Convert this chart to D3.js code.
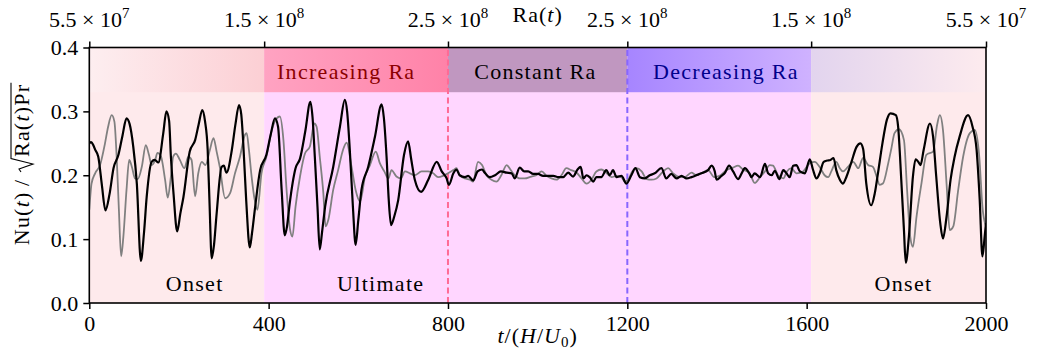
<!DOCTYPE html>
<html><head><meta charset="utf-8">
<script src="https://cdn.jsdelivr.net/npm/d3@7/dist/d3.min.js"></script>
<style>body{margin:0;background:#fff} text{font-family:"Liberation Serif","Times New Roman",serif}</style>
</head><body><svg id="c" width="1037" height="350"></svg>
<script>
// ---------- data ----------
const xTicks = [0, 400, 800, 1200, 1600, 2000];
const yTicks = [0, 0.1, 0.2, 0.3, 0.4];
const topTicks = [0, 390, 800, 1200, 1610, 2000];
const topMant = ["5.5", "1.5", "2.5", "2.5", "1.5", "5.5"];
const topExp = ["7", "8", "8", "8", "8", "7"];
const regionStart = [0, 390, 1610];
const regionEnd = [390, 1610, 2000];
const regionNames = ["Onset", "Ultimate", "Onset"];
const regionLabelT = [235, 650, 1816];
const phaseStart = [0, 390, 800, 1200, 1610];
const phaseEnd = [390, 800, 1200, 1610, 2000];
const phaseNames = ["", "Increasing Ra", "Constant Ra", "Decreasing Ra", ""];
const phaseLabelT = [0, 573, 995, 1420, 0];
const bandBottom = 0.33;
const switchTimes = [800, 1200];

const tBlack = [0,4,9,13,20,28,36,45,54,65,74,83,90,98,106,115,122,128,139,146,154,165,172,178,182,188,196,203,210,224,236,244,252,258,264,268,273,278,284,295,300,306,318,326,334,339,343,350,358,363,370,381,395,405,414,421,429,436,441,447,460,470,482,493,498,503,509,514,519,526,544,559,570,575,581,588,594,600,607,622,637,652,657,663,668,673,680,689,702,711,718,726,740,756,775,786,797,802,812,819,826,838,845,856,866,876,882,893,905,918,931,942,949,960,970,979,990,1001,1012,1023,1035,1046,1057,1068,1079,1089,1096,1102,1109,1116,1124,1131,1142,1153,1161,1168,1176,1187,1198,1209,1218,1228,1239,1250,1261,1276,1287,1298,1310,1321,1332,1343,1354,1365,1380,1388,1395,1399,1410,1417,1427,1436,1447,1455,1462,1472,1477,1484,1496,1507,1514,1522,1529,1539,1548,1555,1562,1570,1577,1585,1596,1607,1614,1622,1629,1638,1646,1653,1660,1666,1674,1681,1689,1700,1711,1720,1726,1733,1744,1752,1759,1769,1779,1787,1799,1804,1811,1817,1821,1828,1837,1843,1849,1854,1861,1875,1882,1889,1898,1904,1912,1921,1930,1941,1960,1970,1979,1986,1992,1997,2000];
const nuBlack = [0.250,0.252,0.247,0.240,0.229,0.185,0.145,0.170,0.211,0.232,0.262,0.289,0.280,0.245,0.187,0.066,0.110,0.166,0.221,0.224,0.220,0.266,0.300,0.285,0.229,0.170,0.112,0.140,0.166,0.237,0.255,0.280,0.302,0.285,0.240,0.160,0.070,0.090,0.140,0.213,0.215,0.204,0.240,0.280,0.310,0.295,0.255,0.160,0.087,0.110,0.151,0.208,0.232,0.265,0.289,0.276,0.177,0.106,0.120,0.156,0.211,0.226,0.270,0.315,0.290,0.229,0.150,0.084,0.110,0.151,0.213,0.276,0.318,0.300,0.240,0.150,0.091,0.130,0.177,0.213,0.260,0.311,0.290,0.229,0.160,0.122,0.135,0.161,0.232,0.253,0.225,0.193,0.174,0.193,0.221,0.206,0.195,0.185,0.203,0.209,0.200,0.197,0.199,0.192,0.206,0.209,0.204,0.197,0.200,0.206,0.204,0.203,0.195,0.212,0.206,0.206,0.202,0.202,0.199,0.199,0.199,0.197,0.197,0.204,0.198,0.209,0.213,0.195,0.200,0.197,0.190,0.197,0.197,0.208,0.200,0.208,0.197,0.199,0.187,0.200,0.211,0.197,0.195,0.200,0.203,0.211,0.195,0.202,0.195,0.199,0.195,0.197,0.200,0.203,0.208,0.215,0.206,0.193,0.199,0.203,0.215,0.206,0.194,0.203,0.211,0.203,0.197,0.203,0.197,0.218,0.203,0.200,0.207,0.194,0.208,0.203,0.197,0.215,0.216,0.206,0.203,0.225,0.209,0.195,0.203,0.221,0.223,0.224,0.227,0.208,0.193,0.187,0.198,0.221,0.244,0.250,0.241,0.187,0.153,0.172,0.203,0.250,0.287,0.297,0.294,0.276,0.193,0.114,0.063,0.104,0.198,0.225,0.221,0.216,0.240,0.281,0.260,0.198,0.125,0.101,0.135,0.193,0.229,0.260,0.294,0.276,0.240,0.161,0.073,0.104,0.125];

const tGray = [0,5,13,24,35,42,50,56,61,66,71,76,83,89,95,102,108,117,126,133,139,147,152,160,169,175,182,187,193,202,212,221,228,236,243,251,259,269,277,284,291,303,314,325,336,347,351,356,362,369,375,384,395,407,418,425,433,440,448,453,460,470,481,492,502,507,514,522,527,533,544,555,566,574,585,594,604,615,626,639,648,658,667,674,685,695,704,715,726,741,756,767,778,789,800,812,819,826,838,849,856,867,876,886,897,908,919,931,940,949,960,971,986,997,1009,1020,1031,1042,1053,1064,1075,1087,1098,1109,1120,1131,1142,1153,1165,1176,1187,1194,1202,1211,1220,1232,1243,1254,1265,1280,1291,1302,1313,1328,1343,1354,1365,1380,1394,1408,1421,1436,1447,1458,1473,1484,1496,1507,1518,1525,1536,1548,1556,1566,1577,1592,1607,1618,1629,1640,1648,1655,1666,1674,1681,1692,1704,1715,1726,1737,1748,1756,1763,1770,1782,1789,1796,1806,1817,1824,1831,1837,1845,1856,1867,1882,1891,1897,1904,1912,1919,1927,1938,1949,1964,1975,1985,1992,2000];
const nuGray = [0.146,0.187,0.203,0.216,0.250,0.276,0.294,0.284,0.229,0.146,0.073,0.104,0.177,0.224,0.213,0.195,0.194,0.213,0.247,0.232,0.216,0.224,0.235,0.229,0.193,0.165,0.198,0.229,0.234,0.224,0.211,0.229,0.224,0.167,0.203,0.221,0.216,0.240,0.258,0.237,0.213,0.164,0.172,0.203,0.229,0.263,0.266,0.240,0.198,0.161,0.146,0.203,0.229,0.271,0.289,0.292,0.255,0.177,0.114,0.104,0.151,0.198,0.234,0.245,0.281,0.276,0.229,0.172,0.120,0.130,0.177,0.208,0.240,0.251,0.213,0.177,0.159,0.198,0.216,0.237,0.219,0.206,0.195,0.208,0.198,0.195,0.206,0.203,0.200,0.206,0.206,0.203,0.197,0.199,0.203,0.208,0.211,0.200,0.195,0.193,0.190,0.221,0.216,0.200,0.193,0.190,0.200,0.216,0.208,0.200,0.195,0.195,0.198,0.200,0.206,0.199,0.195,0.193,0.200,0.211,0.208,0.204,0.195,0.187,0.193,0.206,0.209,0.204,0.197,0.199,0.197,0.190,0.193,0.206,0.211,0.206,0.194,0.193,0.195,0.206,0.211,0.203,0.198,0.197,0.204,0.200,0.203,0.208,0.197,0.200,0.208,0.212,0.215,0.209,0.203,0.188,0.197,0.206,0.216,0.215,0.200,0.195,0.206,0.211,0.203,0.206,0.219,0.221,0.213,0.200,0.197,0.206,0.221,0.211,0.206,0.213,0.221,0.211,0.227,0.216,0.213,0.198,0.185,0.187,0.219,0.242,0.266,0.272,0.255,0.177,0.104,0.088,0.135,0.187,0.232,0.237,0.279,0.294,0.271,0.187,0.114,0.120,0.177,0.229,0.266,0.271,0.229,0.151,0.120];

// ---------- styles ----------
const regionFill = ["#feeaec", "#ffd6ff", "#feeaec"];
const phaseGrad = [["#fdeef0","#fccfd4"],["#ffa3c2","#ff82a8"],["#c097c0","#c097c0"],["#a685ff","#cfb2ff"],["#e2d4ee","#fdebee"]];
const phaseTextColor = ["#000","#8b0000","#000","#00008b","#000"];
const switchColor = ["#ff6b95", "#8866ff"];
const FS = 22;
const LS = 1.3;   // letter spacing for word labels (wider TeX-like look)

// ---------- chart ----------
const svg = d3.select("#c");
const x = d3.scaleLinear().domain([0, 2000]).range([89.3, 986]);
const y = d3.scaleLinear().domain([0, 0.4]).range([303, 47.5]);

const defs = svg.append("defs");
defs.append("clipPath").attr("id", "clip").append("rect")
  .attr("x", x(0)).attr("y", y(0.4)).attr("width", x(2000) - x(0)).attr("height", y(0) - y(0.4));

const bg = svg.append("g");
regionStart.forEach((s, i) => {
  bg.append("rect").attr("x", x(s)).attr("y", y(0.4)).attr("width", x(regionEnd[i]) - x(s))
    .attr("height", y(0) - y(0.4)).attr("fill", regionFill[i]);
});
phaseStart.forEach((s, i) => {
  const gid = "pg" + i;
  const lg = defs.append("linearGradient").attr("id", gid).attr("x1", 0).attr("x2", 1).attr("y1", 0).attr("y2", 0);
  lg.append("stop").attr("offset", 0).attr("stop-color", phaseGrad[i][0]);
  lg.append("stop").attr("offset", 1).attr("stop-color", phaseGrad[i][1]);
  bg.append("rect").attr("x", x(s)).attr("y", y(0.4)).attr("width", x(phaseEnd[i]) - x(s))
    .attr("height", y(bandBottom) - y(0.4)).attr("fill", `url(#${gid})`);
  if (phaseNames[i]) {
    bg.append("text").attr("x", x(phaseLabelT[i])).attr("y", 79).attr("text-anchor", "middle")
      .attr("font-size", FS).attr("letter-spacing", LS).attr("fill", phaseTextColor[i]).text(phaseNames[i]);
  }
});
regionNames.forEach((n, i) => {
  bg.append("text").attr("x", x(regionLabelT[i])).attr("y", 291).attr("text-anchor", "middle")
    .attr("font-size", FS).attr("letter-spacing", LS).attr("fill", "#000").text(n);
});

switchTimes.forEach((t, i) => {
  svg.append("line").attr("x1", x(t)).attr("x2", x(t)).attr("y1", y(0)).attr("y2", y(0.4))
    .attr("stroke", switchColor[i]).attr("stroke-width", 2).attr("stroke-dasharray", "6,3.5");
});

const line = d3.line().x(d => x(d[0])).y(d => y(d[1])).curve(d3.curveMonotoneX);
const lines = svg.append("g").attr("clip-path", "url(#clip)");
lines.append("path").datum(tGray.map((t, i) => [t, nuGray[i]])).attr("d", line)
  .attr("fill", "none").attr("stroke", "#808080").attr("stroke-width", 1.8).attr("stroke-linejoin", "round");
lines.append("path").datum(tBlack.map((t, i) => [t, nuBlack[i]])).attr("d", line)
  .attr("fill", "none").attr("stroke", "#000").attr("stroke-width", 2.2).attr("stroke-linejoin", "round");

// axes
const axB = svg.append("g").attr("transform", `translate(0,${y(0)})`)
  .call(d3.axisBottom(x).tickValues(xTicks).tickFormat(d3.format("d")).tickSize(6).tickPadding(5));
const axL = svg.append("g").attr("transform", `translate(${x(0)},0)`)
  .call(d3.axisLeft(y).tickValues(yTicks).tickFormat(d3.format(".1f")).tickSize(6).tickPadding(5));
const axT = svg.append("g").attr("transform", `translate(0,${y(0.4)})`)
  .call(d3.axisTop(x).tickValues(topTicks).tickFormat("").tickSize(6));
[axB, axL, axT].forEach(a => {
  a.select(".domain").remove();
  a.selectAll("line").attr("stroke", "#000").attr("stroke-width", 1.5);
  a.selectAll("text").attr("font-size", FS).attr("font-family", '"Liberation Serif",serif').attr("fill", "#000");
});
axB.selectAll("text").attr("dy", "0.75em");
// top labels
topTicks.forEach((t, i) => {
  const tx = svg.append("text").attr("x", x(t)).attr("y", 26.5).attr("text-anchor", "middle").attr("font-size", FS);
  tx.append("tspan").text(topMant[i] + " \u00d7 10");
  tx.append("tspan").attr("dy", -9).attr("font-size", 15).text(topExp[i]);
});
// frame
svg.append("rect").attr("x", x(0)).attr("y", y(0.4)).attr("width", x(2000) - x(0)).attr("height", y(0) - y(0.4))
  .attr("fill", "none").attr("stroke", "#000").attr("stroke-width", 1.6);

// top title Ra(t)
const rt = svg.append("text").attr("x", x(1000)).attr("y", 21.5).attr("text-anchor", "middle")
  .attr("font-size", FS).attr("letter-spacing", 1);
rt.append("tspan").text("Ra(");
rt.append("tspan").attr("font-style", "italic").text("t");
rt.append("tspan").text(")");

// x label
const xl = svg.append("text").attr("x", x(1000)).attr("y", 343).attr("text-anchor", "middle")
  .attr("font-size", FS).attr("letter-spacing", 1);
xl.append("tspan").attr("font-style", "italic").text("t");
xl.append("tspan").text("/(");
xl.append("tspan").attr("font-style", "italic").text("H");
xl.append("tspan").text("/");
xl.append("tspan").attr("font-style", "italic").text("U");
xl.append("tspan").attr("dy", 4).attr("font-size", 15).text("0");
xl.append("tspan").attr("dy", -4).text(")");

// y label with radical
const yg = svg.append("g").attr("transform", `translate(29,164) rotate(-90)`);
const inner = yg.append("g");
const t1 = inner.append("text").attr("x", 0).attr("y", 0).attr("font-size", FS).attr("letter-spacing", 1.2);
t1.append("tspan").text("Nu(");
t1.append("tspan").attr("font-style", "italic").text("t");
t1.append("tspan").text(")\u2009/\u2009");
const w1 = t1.node().getComputedTextLength();
const t2 = inner.append("text").attr("x", w1 + 16).attr("y", 0).attr("font-size", FS).attr("letter-spacing", 1.2);
t2.append("tspan").text("Ra(");
t2.append("tspan").attr("font-style", "italic").text("t");
t2.append("tspan").text(")Pr");
const w2 = t2.node().getComputedTextLength();
const W = w1 + 16 + w2 + 1;
inner.append("path")
  .attr("d", `M${w1 + 1},-8 L${w1 + 4},-10 L${w1 + 9},4 L${w1 + 14.5},-18 L${W},-18`)
  .attr("fill", "none").attr("stroke", "#000").attr("stroke-width", 1.1);
inner.attr("transform", `translate(${-W / 2},0)`);
</script></body></html>
